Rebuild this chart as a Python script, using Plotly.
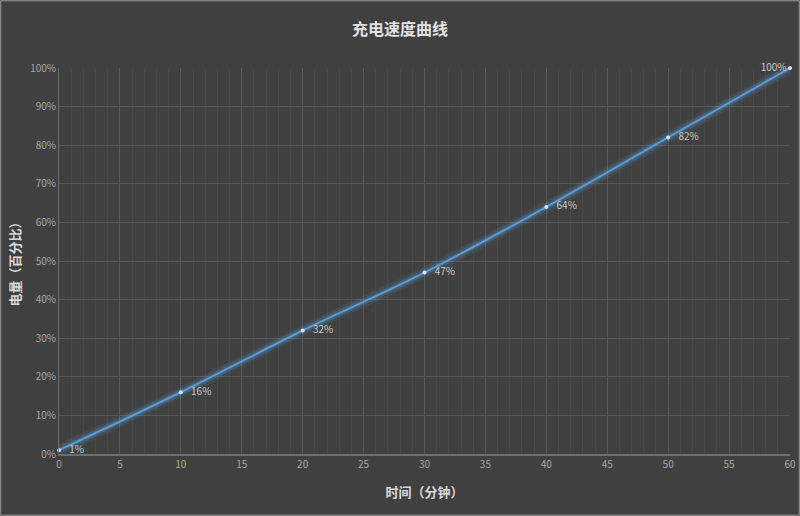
import plotly.graph_objects as go

minutes = [0, 10, 20, 30, 40, 50, 60]
battery = [1, 16, 32, 47, 64, 82, 100]
label_pos = ['middle right'] * 6 + ['middle left']

font_cn = 'Noto Sans CJK SC'

fig = go.Figure()

# soft glow under the line
for w, a in [(11, 0.12), (6, 0.22)]:
    fig.add_trace(go.Scatter(
        x=minutes, y=battery, mode='lines',
        line=dict(color='rgba(91,155,213,%s)' % a, width=w, shape='spline'),
        hoverinfo='skip', showlegend=False))

labels = ['   ' + str(v) + '%' for v in battery[:-1]] + [str(battery[-1]) + '%']

fig.add_trace(go.Scatter(
    x=minutes, y=battery,
    mode='lines+markers+text',
    line=dict(color='#5b9bd5', width=2, shape='spline'),
    marker=dict(size=4, color='#d6e6f7'),
    text=labels,
    textposition=label_pos,
    textfont=dict(family=font_cn, size=10, color='#c8c8c8'),
    cliponaxis=False,
    showlegend=False))

fig.update_layout(
    width=800, height=516,
    paper_bgcolor='#404040', plot_bgcolor='#404040',
    margin=dict(l=59, r=10, t=68, b=62, autoexpand=False),
    title=dict(text='<b>充电速度曲线</b>', x=0.5, y=1 - 29/516,
               xanchor='center', yanchor='middle',
               font=dict(family=font_cn, size=16, color='#e2e2e2')),
    font=dict(family=font_cn, color='#a8a8a8'),
)

fig.update_xaxes(
    range=[0, 60], dtick=5, tick0=0,
    showgrid=True, gridcolor='#585858', gridwidth=1,
    minor=dict(dtick=1, showgrid=True, gridcolor='#484848'),
    showline=True, linecolor='#6e6e6e', linewidth=2,
    zeroline=False, ticks='',
    tickfont=dict(size=10, color='#a8a8a8'),
    title=dict(text='<b>时间（分钟）</b>', standoff=18,
               font=dict(family=font_cn, size=13, color='#d8d8d8')),
)
fig.update_yaxes(
    range=[0, 100], dtick=10, ticksuffix='%',
    showgrid=True, gridcolor='#585858', gridwidth=1,
    showline=True, linecolor='#6e6e6e', linewidth=1,
    zeroline=False, ticks='',
    tickfont=dict(size=10, color='#a8a8a8'),
    title=dict(text='<b>电量（百分比）</b>', standoff=6,
               font=dict(family=font_cn, size=13, color='#d8d8d8')),
)

fig.add_shape(type='rect', xref='paper', yref='paper',
              x0=-59/731 + 0.001, x1=1 + 10/731 - 0.001,
              y0=-62/386 + 0.002, y1=1 + 68/386 - 0.002,
              line=dict(color='#9a9a9a', width=1))

fig.write_html("out.html", config={'displayModeBar': False},
               post_script="document.body.style.margin='0';")
